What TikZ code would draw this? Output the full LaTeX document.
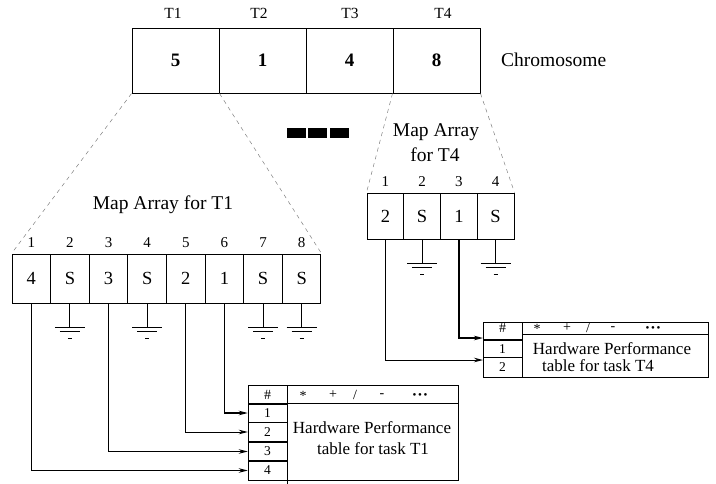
\documentclass[tikz,border=0pt]{standalone}
\usepackage{fontspec}
\setmainfont{Liberation Serif}
\usetikzlibrary{arrows.meta}
\newcommand{\tripledot}{{\fontsize{11}{11}\selectfont •\hspace{1.6pt}•\hspace{1.6pt}•}}
\begin{document}
\begin{tikzpicture}[x=1pt,y=-1pt,
  chrcell/.style={draw, line width=1pt, minimum width=87pt, minimum height=65pt, inner sep=0pt, font=\fontsize{19}{21}\selectfont\bfseries},
  mapcell/.style={draw, line width=1pt, minimum width=38.6pt, minimum height=49pt, inner sep=0pt, font=\fontsize{18.5}{20}\selectfont},
  mapcellb/.style={draw, line width=1pt, minimum width=36.75pt, minimum height=46pt, inner sep=0pt, font=\fontsize{18.5}{20}\selectfont},
  idx/.style={inner sep=0pt, font=\fontsize{15}{17}\selectfont},
  tlabel/.style={inner sep=0pt, font=\fontsize{15.5}{17}\selectfont},
  title/.style={inner sep=0pt, font=\fontsize{19.5}{22}\selectfont},
  small/.style={inner sep=0pt, font=\fontsize{14}{16}\selectfont},
  rowcell/.style={inner sep=0pt, minimum width=39pt, minimum height=1pt, font=\fontsize{13.5}{15}\selectfont},
  hw/.style={inner sep=0pt, font=\fontsize{17}{19}\selectfont},
  tbl/.style={line width=0.9pt},
  guide/.style={line width=0.5pt, gray, dash pattern=on 4pt off 4pt},
  conn/.style={line width=1pt, -{Stealth[length=9pt,width=4.5pt]}},
  thickconn/.style={line width=1.6pt, -{Stealth[length=9pt,width=4.5pt]}},
  gnd/.pic={
    \draw[line width=0.9pt] (0,0) -- (0,24);
    \draw[line width=0.9pt] (-15,24) -- (15,24);
    \draw[line width=0.9pt] (-10,28) -- (10,28);
    \draw[line width=0.9pt] (-2,35) -- (2,35);
  }]
\useasboundingbox (0,0) rectangle (716,483);

% Chromosome
\node[chrcell] (c1) at (175.5,60.5) {5};
\node[chrcell] (c2) at (262.5,60.5) {1};
\node[chrcell] (c3) at (349.5,60.5) {4};
\node[chrcell] (c4) at (436.5,60.5) {8};
\node[tlabel] (t1) at (173,13) {T1};
\node[tlabel] (t2) at (259,13) {T2};
\node[tlabel] (t3) at (350,13) {T3};
\node[tlabel] (t4) at (443,13) {T4};
\node[title, anchor=west] (chrlab) at (501,60) {Chromosome};

% dots
\fill (287,128) rectangle (306,138);
\fill (308,128) rectangle (327,138);
\fill (330,128) rectangle (349,138);

% Map array T1
\node[title] (mt1) at (163,205) {Map Array for T1};
\foreach \i/\v in {1/4,2/S,3/3,4/S,5/2,6/1,7/S,8/S}{
  \node[mapcell] (m\i) at ({12+38.625*(\i-0.5)},278.5) {\v};
  \node[idx] (mi\i) at ({12+38.625*(\i-0.5)},243) {\i};
}
\pic at (m2.south) {gnd};
\pic at (m4.south) {gnd};
\pic at (m7.south) {gnd};
\pic at (m8.south) {gnd};

% Map array T4
\node[title] (mt4a) at (436,132) {Map Array};
\node[title] (mt4b) at (435,155) {for T4};
\foreach \i/\v in {1/2,2/S,3/1,4/S}{
  \node[mapcellb] (n\i) at ({367+36.75*(\i-0.5)},216) {\v};
  \node[idx] (ni\i) at ({367+36.75*(\i-0.5)},182) {\i};
}
\pic at (n2.south) {gnd};
\pic at (n4.south) {gnd};

% guides
\draw[guide] (c1.south west) -- (m1.north west);
\draw[guide] (c1.south east) -- (m8.north east);
\draw[guide] (c4.south west) -- (n1.north west);
\draw[guide] (c4.south east) -- (n4.north east);

% Table T1
\draw[tbl] (248,385) rectangle (458,480);
\draw[tbl] (287,403) -- (458,403);
\draw[line width=1.6pt] (248,404) -- (287,404);
\draw[tbl] (287,385) -- (287,484);
\draw[line width=0.6pt] (248,422) -- (287,422);
\draw[line width=1.6pt] (248,442) -- (287,442);
\draw[line width=1.6pt] (248,461) -- (287,461);
\node[small] (h1) at (267.5,395) {\#};
\node[small] (o1) at (303,396) {*};
\node[small] (o2) at (333,395) {+};
\node[small] (o3) at (355,395) {/};
\node[small] (o4) at (382,396) {-};
\node[small] (o5) at (420,396) {\tripledot};
\node[rowcell] (r1) at (267.5,413) {1};
\node[rowcell] (r2) at (267.5,432) {2};
\node[rowcell] (r3) at (267.5,451.5) {3};
\node[rowcell] (r4) at (267.5,470.5) {4};
\node[hw] (hw1a) at (372,428) {Hardware Performance};
\node[hw] (hw1b) at (373,449) {table for task T1};

% Table T4
\draw[tbl] (483,322) rectangle (708,377);
\draw[tbl] (522,334) -- (708,334);
\draw[line width=1.6pt] (483,340) -- (522,340);
\draw[line width=0.6pt] (483,357) -- (522,357);
\draw[tbl] (522,322) -- (522,377);
\node[small] (h4) at (502.5,328) {\#};
\node[small] (p1) at (537,329) {*};
\node[small] (p2) at (567,328) {+};
\node[small] (p3) at (588,328) {/};
\node[small] (p4) at (613,329) {-};
\node[small] (p5) at (653,329) {\tripledot};
\node[rowcell] (q1) at (502.5,349) {1};
\node[rowcell] (q2) at (502.5,367) {2};
\node[hw] (hw4a) at (612,349) {Hardware Performance};
\node[hw] (hw4b) at (598,366) {table for task T4};
\coordinate (qa) at (483,338);
\coordinate (qb) at (483,360);

% connectors
\draw[thickconn] (m6.south) |- (r1.west);
\draw[conn] (m5.south) |- (r2.west);
\draw[thickconn] (m3.south) |- (r3.west);
\draw[thickconn] (m1.south) |- (r4.west);
\draw[thickconn] (n3.south) |- (qa);
\draw[conn] (n1.south) |- (qb);
\end{tikzpicture}
\end{document}
